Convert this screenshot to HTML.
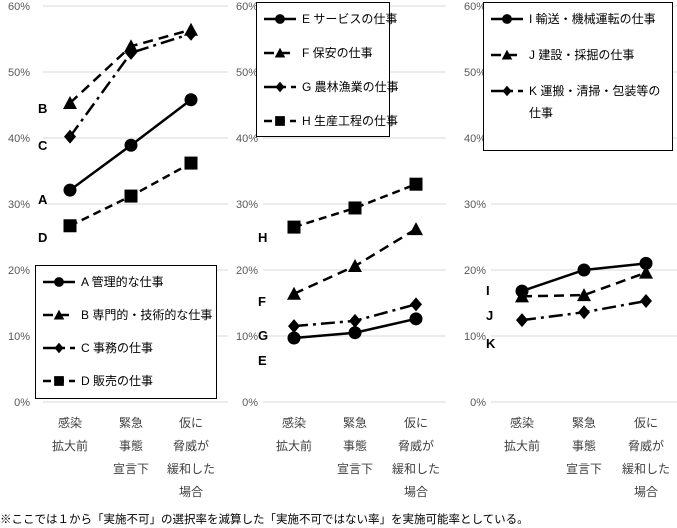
<!DOCTYPE html>
<html><head><meta charset="utf-8"><style>
body{margin:0;background:#fff;}
svg{display:block;font-family:"Liberation Sans","Noto Sans CJK JP",sans-serif;}
</style></head><body>
<svg id="c" width="677" height="528" viewBox="0 0 677 528"></svg>
<script>
const categories = ["感染\n拡大前", "緊急\n事態\n宣言下", "仮に\n脅威が\n緩和した\n場合"];
const yTicks = [0, 10, 20, 30, 40, 50, 60];
const seriesA = [32.1, 38.9, 45.8];
const seriesB = [45.3, 53.9, 56.4];
const seriesC = [40.2, 52.9, 55.8];
const seriesD = [26.7, 31.2, 36.2];
const seriesE = [9.7, 10.5, 12.6];
const seriesF = [16.4, 20.6, 26.2];
const seriesG = [11.5, 12.3, 14.8];
const seriesH = [26.5, 29.4, 33.0];
const seriesI = [16.8, 20.0, 21.0];
const seriesJ = [16.0, 16.2, 19.6];
const seriesK = [12.4, 13.6, 15.3];
const legend1 = ["A 管理的な仕事", "B 専門的・技術的な仕事", "C 事務の仕事", "D 販売の仕事"];
const legend2 = ["E サービスの仕事", "F 保安の仕事", "G 農林漁業の仕事", "H 生産工程の仕事"];
const legend3 = ["I 輸送・機械運転の仕事", "J 建設・採掘の仕事", "K 運搬・清掃・包装等の"];

const NS = "http://www.w3.org/2000/svg";
const svg = document.getElementById("c");
function mk(tag, attrs, parent) {
  const e = document.createElementNS(NS, tag);
  for (const k in attrs) e.setAttribute(k, attrs[k]);
  (parent || svg).appendChild(e);
  return e;
}
const y = v => 402 - v * 6.6;
const panels = [
  {gx0: 43, gx1: 228, lx: 30, cx: [70, 131, 191],
   series: [[seriesA, "circle", "none", "A", 199], [seriesB, "tri", "10,6", "B", 108], [seriesC, "dia", "14,5,3,5", "C", 145], [seriesD, "sq", "8,5", "D", 237]],
   legend: {x: 35, y: 265, w: 181, h: 133, items: legend1, dy: 33}},
  {gx0: 263, gx1: 446, lx: 258, cx: [294, 355, 416],
   series: [[seriesE, "circle", "none", "E", 360], [seriesF, "tri", "10,6", "F", 301], [seriesG, "dia", "14,5,3,5", "G", 335], [seriesH, "sq", "8,5", "H", 237]],
   legend: {x: 256, y: 2, w: 133, h: 134, items: legend2, dy: 34}},
  {gx0: 491, gx1: 677, lx: 486, cx: [522, 584, 646],
   series: [[seriesI, "circle", "none", "I", 290], [seriesJ, "tri", "10,6", "J", 315], [seriesK, "dia", "14,5,3,5", "K", 343]],
   legend: {x: 483, y: 2, w: 189, h: 148, items: legend3, dy: 36}}
];
function marker(g, type, x, yy, s) {
  s = s || 1;
  let m;
  if (type === "circle") m = mk("circle", {cx: x, cy: yy, r: 6.5 * s, fill: "#000"}, g);
  else if (type === "sq") m = mk("rect", {x: x - 6.5 * s, y: yy - 6.5 * s, width: 13 * s, height: 13 * s, fill: "#000"}, g);
  else if (type === "tri") m = mk("polygon", {points: `${x},${yy - 7 * s} ${x - 7 * s},${yy + 6 * s} ${x + 7 * s},${yy + 6 * s}`, fill: "#000"}, g);
  else m = mk("polygon", {points: `${x},${yy - 7 * s} ${x + 6 * s},${yy} ${x},${yy + 7 * s} ${x - 6 * s},${yy}`, fill: "#000"}, g);
  
  
}
panels.forEach((p, pi) => {
  const g = mk("g", {});
  
  
  yTicks.forEach(t => {
    const l = mk("line", {x1: p.gx0, x2: p.gx1, y1: y(t), y2: y(t), stroke: "#d9d9d9", "stroke-width": 1}, g);
    
    
    const tx = mk("text", {x: p.lx, y: y(t) + 4, "text-anchor": "end", "font-size": 11, fill: "#595959"}, g);
    tx.textContent = t + "%";
    
    
  });
  categories.forEach((c, i) => {
    c.split("\n").forEach((ln, j) => {
      const t = mk("text", {x: p.cx[i], y: 427 + j * 23, "text-anchor": "middle", "font-size": 12, fill: "#404040"}, g);
      t.textContent = ln;
      
      
    });
  });
  p.series.forEach(s => {
    const [vals, type, dash, lab, ly] = s;
    const sg = mk("g", {}, g);
    
    
    const pts = vals.map((v, i) => p.cx[i] + "," + y(v)).join(" ");
    const pl = mk("polyline", {points: pts, fill: "none", stroke: "#000", "stroke-width": 2.5, "stroke-dasharray": dash}, sg);
    
    
    vals.forEach((v, i) => marker(sg, type, p.cx[i], y(v)));
    const t = mk("text", {x: p.gx0 - 5, y: ly + 5, "font-size": 13, "font-weight": "bold"}, g);
    t.textContent = lab;
    
    
  });
  const L = p.legend;
  const lg = mk("g", {}, g);
  
  
  mk("rect", {x: L.x + 0.5, y: L.y + 0.5, width: L.w, height: L.h, fill: "#fff", stroke: "#000", "stroke-width": 1}, lg);
  L.items.forEach((it, i) => {
    const s = p.series[i];
    const yy = L.y + 17 + i * L.dy;
    const ent = mk("g", {}, lg);
    
    
    mk("line", {x1: L.x + 8, x2: L.x + 40, y1: yy, y2: yy, stroke: "#000", "stroke-width": 2.5, "stroke-dasharray": s[2]}, ent);
    marker(ent, s[1], L.x + 24, yy, 0.75);
    const t = mk("text", {x: L.x + 46, y: yy + 4, "font-size": 12}, ent);
    t.textContent = it;
    if (pi === 2 && i === 2) {
      const t2 = mk("text", {x: L.x + 46, y: yy + 26, "font-size": 12}, ent);
      t2.textContent = "仕事";
    }
  });
});
const fn = mk("text", {x: 0, y: 523, "font-size": 11.5, fill: "#000"});
fn.textContent = "※ここでは１から「実施不可」の選択率を減算した「実施不可ではない率」を実施可能率としている。";


</script>
</body></html>
